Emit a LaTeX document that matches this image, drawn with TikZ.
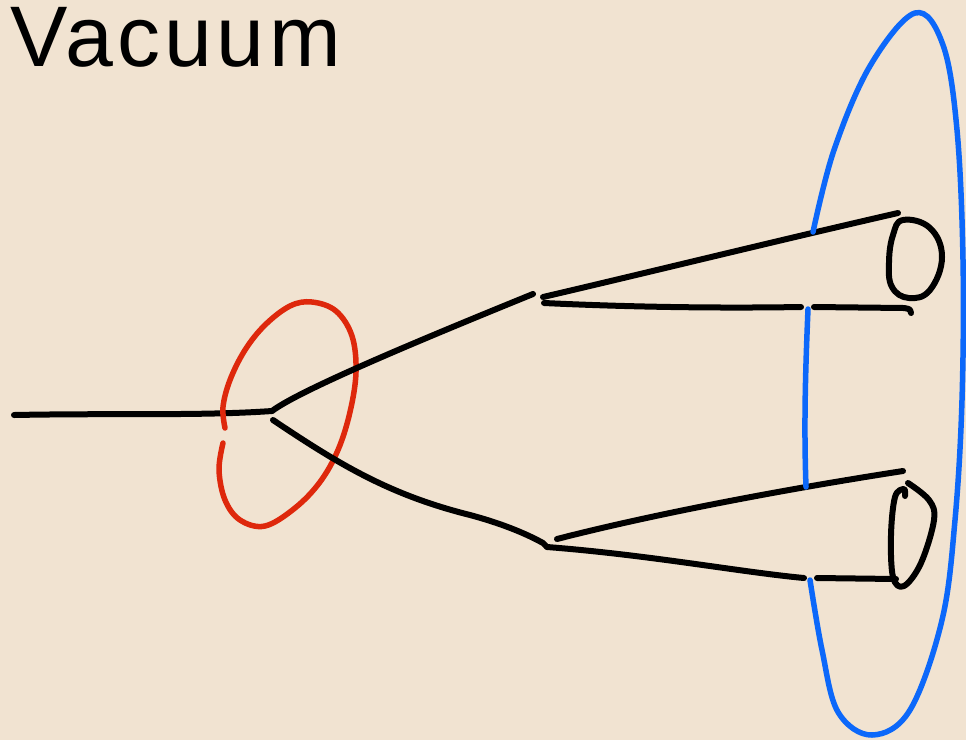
\documentclass[tikz,border=0pt]{standalone}
\usepackage{fontspec}
\setmainfont{Liberation Sans}
\definecolor{woodbg}{RGB}{241,227,209}
\definecolor{loopred}{RGB}{222,40,12}
\definecolor{shellblue}{RGB}{12,104,250}
\usetikzlibrary{calc}

\begin{document}
\begin{tikzpicture}[x=1pt, y=-1pt,
    ink/.style={line width=6pt, line cap=round, line join=round, black},
    redloop/.style={line width=5.5pt, line cap=round, loopred},
    blueshell/.style={line width=5.5pt, line cap=round, shellblue}]
% background
\fill[woodbg] (0,0) rectangle (966,740);
\useasboundingbox (0,0) rectangle (966,740);
\node[anchor=base west, inner sep=0pt, font=\fontsize{86}{86}\selectfont\addfontfeatures{LetterSpace=5}] (title) at (10,66) {Vacuum};

% key points
\coordinate (vertex) at (272,411);
\coordinate (upsplit) at (540,298);
\coordinate (lowsplit) at (547,547);

% incoming line
\draw[ink] (14,415) .. controls (120,413) and (200,416) .. (vertex);

% red loop
\draw[redloop] plot[smooth, tension=0.6] coordinates {(225,428) (223,407) (230,380) (245,350) (265,325) (290,306) (312,302) (336,311) (352,336) (356,372) (350,412) (338,450) (320,482) (295,508) (265,526) (240,520) (225,500) (219,470) (223,443)};

% branches
\draw[ink] (vertex) .. controls (300,390) and (420,340) .. (533,294);
\draw[ink] (273,420) .. controls (340,465) and (390,495) .. (470,515) .. controls (500,523) and (525,533) .. (543,543) -- (lowsplit);

% upper cone
\draw[ink] (543,297) .. controls (650,272) and (780,240) .. (898,213);
\draw[ink] (544,303) .. controls (650,308) and (740,308) .. (801,307);
\draw[ink] (814,307) -- (904,308) .. controls (910,309) .. (911,313);
\draw[ink] plot[smooth cycle, tension=0.7] coordinates {(903,220) (930,228) (942,257) (930,290) (909,298) (892,287) (889,262) (893,235)};

% lower cone
\draw[ink] (557,539) .. controls (650,515) and (780,490) .. (903,471);
\draw[ink] (lowsplit) .. controls (650,555) and (740,572) .. (804,578);
\draw[ink] (817,578) -- (896,579);
\draw[ink] plot[smooth, tension=0.6] coordinates {(908,483) (929,500) (934,520) (921,563) (904,586) (893,577) (891,535) (895,497) (904,489) (905,496)};

% blue surface
\draw[blueshell] plot[smooth, tension=0.6] coordinates {(813,232) (834,150) (870,66) (915,13) (943,45) (957,130) (963,260) (962,400) (955,520) (942,620) (910,710) (872,735) (838,712) (822,650) (810,580)};
\draw[blueshell] (808,309) .. controls (805,380) and (804,430) .. (806,487);
\end{tikzpicture}
\end{document}
